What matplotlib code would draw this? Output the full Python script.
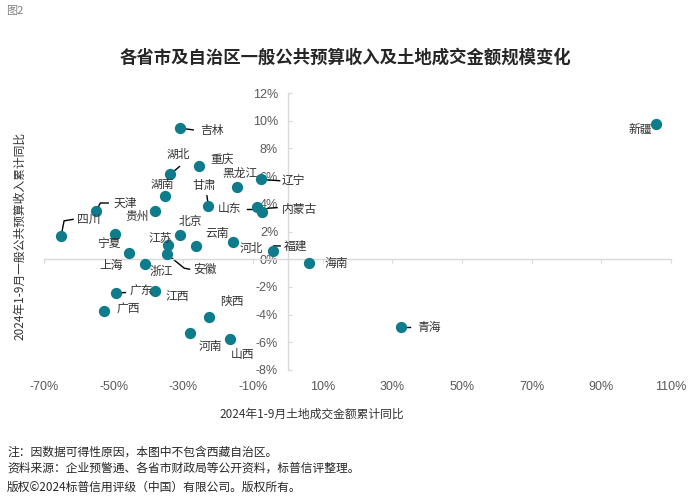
import matplotlib
matplotlib.use("Agg")
import matplotlib.pyplot as plt
from matplotlib.lines import Line2D
from matplotlib.transforms import IdentityTransform
import numpy as np

plt.rcParams['font.family'] = ['Noto Sans CJK SC', 'DejaVu Sans']

# ---------------- data ----------------
provinces = ['四川', '天津', '宁夏', '上海', '广东', '广西', '浙江', '贵州', '江西', '湖南',
             '湖北', '江苏', '安徽', '北京', '吉林', '河南', '云南', '重庆', '甘肃', '陕西',
             '河北', '山西', '黑龙江', '山东', '内蒙古', '辽宁', '福建', '海南', '青海', '新疆']
land_growth = [-65.1, -55.0, -49.5, -45.7, -49.3, -52.7, -41.1, -38.0, -38.0, -35.4,
               -33.7, -34.5, -34.7, -31.0, -30.9, -28.2, -26.4, -25.4, -22.8, -22.5,
               -15.8, -16.5, -14.5, -8.8, -7.5, -7.8, -4.4, 6.2, 32.5, 105.7]
budget_growth = [1.65, 3.45, 1.79, 0.45, -2.45, -3.71, -0.35, 3.45, -2.29, 4.57,
                 6.14, 1.03, 0.36, 1.73, 9.46, -5.34, 0.96, 6.76, 3.83, -4.19,
                 1.23, -5.75, 5.20, 3.78, 3.39, 5.76, 0.62, -0.30, -4.91, 9.77]

x_ticks = list(range(-70, 111, 20))
y_ticks = list(range(-8, 13, 2))

title = '各省市及自治区一般公共预算收入及土地成交金额规模变化'
x_label = '2024年1-9月土地成交金额累计同比'
y_label = '2024年1-9月一般公共预算收入累计同比'
notes = ['注：因数据可得性原因，本图中不包含西藏自治区。',
         '资料来源：企业预警通、各省市财政局等公开资料，标普信评整理。',
         '版权©2024标普信用评级（中国）有限公司。版权所有。']

# ---------------- layout (pixel offsets of labels / leader lines) ----------------
label_offsets = {
    '四川': (27.6, 17.2), '天津': (29, 8.4), '宁夏': (-7, -8.8), '上海': (-17.6, -12.3),
    '广东': (25, 1.6), '广西': (24.3, 1.4), '浙江': (16.5, -7.5), '贵州': (-18, -4.5),
    '江西': (21.7, -5.7), '湖南': (-2.6, 12), '湖北': (8.3, 19.3), '江苏': (-7.3, 6.7),
    '安徽': (38.3, -15), '北京': (10.5, 13.6), '吉林': (31.7, -2.7), '河南': (20.7, -13.4),
    '云南': (21.2, 12.7), '重庆': (22.7, 6.4), '甘肃': (-4, 20.3), '陕西': (22.4, 15.6),
    '河北': (18.3, -6), '山西': (12.3, -16), '黑龙江': (3, 14), '山东': (-27.3, -2),
    '内蒙古': (37.8, 3), '辽宁': (32.5, -0.5), '福建': (22.7, 4), '海南': (26.5, -0.2),
    '青海': (27.6, 0), '新疆': (-16, -5.3),
}
leaders = {
    '四川': [(0, 0), (3, 15.5), (12, 17)],
    '天津': [(0, 0), (4, 8.4), (12, 8.4)],
    '吉林': [(0, 0), (13, -1.7)],
    '湖北': [(0, 0), (9, 7.6)],
    '甘肃': [(0, 0), (-1.5, 10.3)],
    '山东': [(-10.6, -2), (-2, -2)],
    '内蒙古': [(0, 0), (6, 4), (15.4, 4.6)],
    '辽宁': [(0, 0), (19, -1.3)],
    '福建': [(0, 0), (1, 4.7), (7.7, 4.7)],
    '安徽': [(0, 0), (17.3, -14), (22.6, -15)],
    '广东': [(0, 0), (9.3, 0.6)],
    '青海': [(0, 0), (9.3, 0)],
}

W, H = 700, 497
fig = plt.figure(figsize=(W / 100, H / 100), dpi=100)
ax_l, ax_r, ax_t, ax_b = 44 / W, 671 / W, 93 / H, 370 / H
ax = fig.add_axes([ax_l, 1 - ax_b, ax_r - ax_l, ax_b - ax_t])
ax.set_xlim(-70, 110)
ax.set_ylim(-8, 12)

axis_grey = '#D9D9D9'
tick_grey = '#595959'
text_col = '#333333'
dot_col = '#0E7C8B'

for s in ['top', 'right']:
    ax.spines[s].set_visible(False)
ax.spines['left'].set_position(('data', 0))
ax.spines['bottom'].set_position(('data', 0))
ax.spines['left'].set_color(axis_grey)
ax.spines['bottom'].set_color(axis_grey)
ax.spines['left'].set_linewidth(1)
ax.spines['bottom'].set_linewidth(1)

ax.set_yticks(y_ticks)
ax.set_yticklabels([f'{v}%' for v in y_ticks], family=['Liberation Sans', 'DejaVu Sans'],
                   fontsize=9, color=tick_grey)
ax.tick_params(axis='y', direction='in', length=3, color=axis_grey, pad=7)
ax.set_xticks(x_ticks)
ax.tick_params(axis='x', direction='out', length=3, color=axis_grey, labelbottom=False)

sec = ax.secondary_xaxis('bottom')
sec.set_xticks(x_ticks)
sec.set_xticklabels([f'{v}%' for v in x_ticks], family=['Liberation Sans', 'DejaVu Sans'],
                    fontsize=9, color=tick_grey)
sec.spines['bottom'].set_visible(False)
sec.tick_params(axis='x', length=0, pad=8)

ax.scatter(land_growth, budget_growth, s=66, color=dot_col, zorder=3, linewidths=0)

for name, xv, yv in zip(provinces, land_growth, budget_growth):
    dx, dy = label_offsets[name]
    ax.annotate(name, (xv, yv), xytext=(dx, dy), textcoords='offset pixels',
                ha='center', va='center', fontsize=8.5, color=text_col, zorder=4)
    if name in leaders:
        px, py = ax.transData.transform((xv, yv))
        xs = [px + o[0] for o in leaders[name]]
        ys = [py + o[1] for o in leaders[name]]
        ln = Line2D(xs, ys, transform=IdentityTransform(), color='black', lw=1.0, zorder=2)
        ax.add_line(ln)

ax.set_xlim(-70, 110)
ax.set_ylim(-8, 12)

fig.text(15 / W, 1 - 11 / H, '图2', fontsize=8, color='#7F7F7F', ha='center', va='center')
fig.text(345 / W, 1 - 58 / H, title, fontsize=12.5, fontweight='bold', color='#262626',
         ha='center', va='center')
fig.text(312 / W, 1 - 414 / H, x_label, fontsize=8.5, color=text_col, ha='center', va='center')
fig.text(20 / W, 1 - 236 / H, y_label, fontsize=8.5, color=text_col, ha='center', va='center',
         rotation=90)
for i, (t, yy) in enumerate(zip(notes, [451.7, 468.3, 487.3])):
    fig.text(7 / W, 1 - yy / H, t, fontsize=8.5, color='#262626', ha='left', va='center')

fig.savefig('out.png', dpi=100)
